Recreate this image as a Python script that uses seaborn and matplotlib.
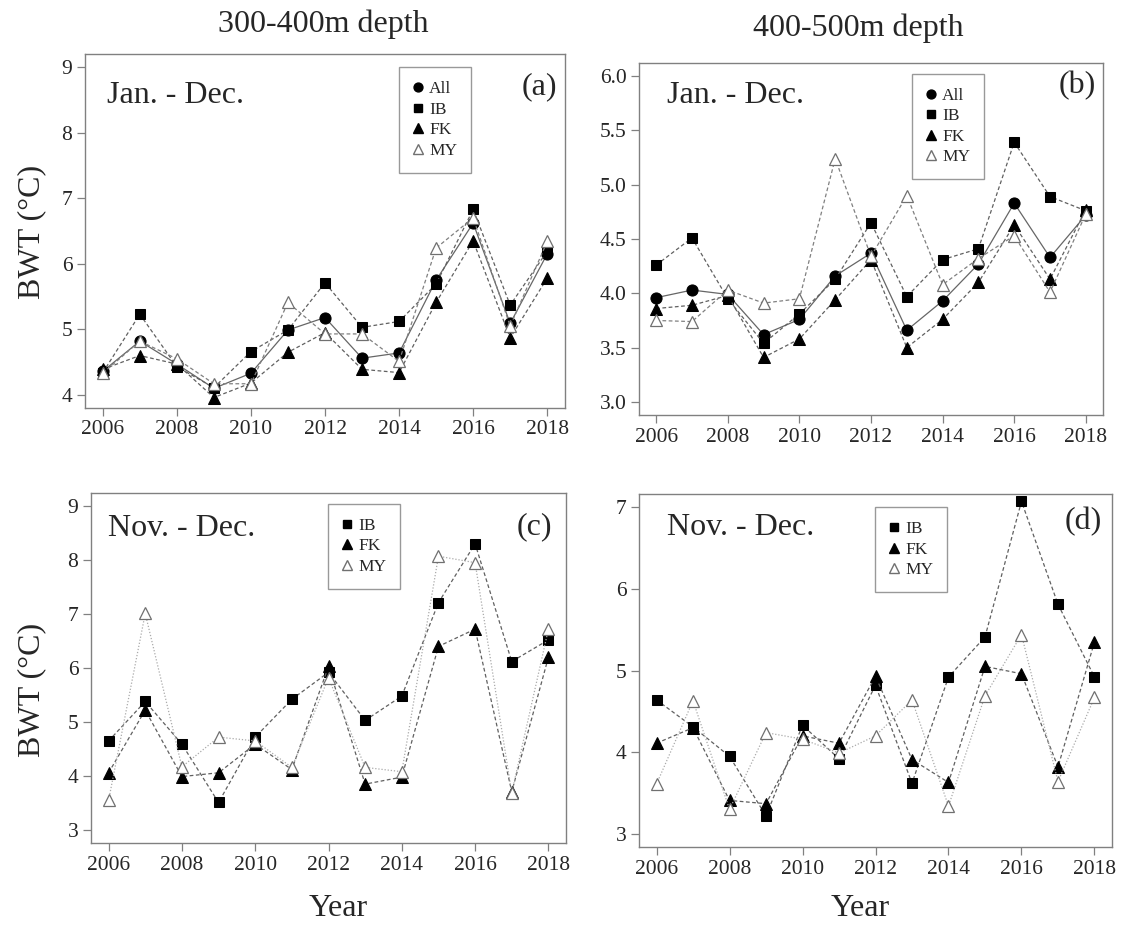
import pandas as pd
import seaborn as sns
import matplotlib.pyplot as plt
from matplotlib.lines import Line2D

# Bottom water temperature by year
years = list(range(2006, 2019))

# (a) 300-400m, Jan.-Dec.
a_all = [4.36, 4.82, 4.47, 4.10, 4.33, 4.99, 5.18, 4.56, 4.64, 5.75, 6.62, 5.09, 6.15]
a_ib = [4.34, 5.23, 4.43, 4.11, 4.66, 4.99, 5.71, 5.03, 5.12, 5.69, 6.83, 5.37, 6.19]
a_fk = [4.39, 4.60, 4.47, 3.96, 4.18, 4.65, 4.95, 4.39, 4.34, 5.41, 6.35, 4.87, 5.78]
a_my = [4.33, 4.82, 4.55, 4.17, 4.17, 5.41, 4.93, 4.93, 4.51, 6.24, 6.70, 5.05, 6.34]

# (b) 400-500m, Jan.-Dec.
b_all = [3.96, 4.03, 3.99, 3.62, 3.76, 4.16, 4.37, 3.66, 3.93, 4.27, 4.83, 4.33, 4.72]
b_ib = [4.26, 4.51, 3.95, 3.54, 3.81, 4.13, 4.65, 3.97, 4.31, 4.41, 5.39, 4.89, 4.76]
b_fk = [3.86, 3.89, 3.98, 3.41, 3.58, 3.94, 4.31, 3.50, 3.76, 4.10, 4.63, 4.13, 4.77]
b_my = [3.75, 3.74, 4.03, 3.91, 3.95, 5.24, 4.34, 4.90, 4.08, 4.32, 4.53, 4.01, 4.73]

# (c) 300-400m, Nov.-Dec.
c_ib = [4.65, 5.38, 4.59, 3.51, 4.72, 5.42, 5.92, 5.03, 5.48, 7.21, 8.30, 6.12, 6.52]
c_fk = [4.06, 5.22, 3.99, 4.06, 4.59, 4.12, 6.03, 3.85, 3.98, 6.40, 6.72, 3.71, 6.20]
c_my = [3.55, 7.01, 4.17, 4.72, 4.65, 4.16, 5.82, 4.16, 4.08, 8.07, 7.95, 3.69, 6.72]

# (d) 400-500m, Nov.-Dec.
d_ib = [4.64, 4.31, 3.95, 3.22, 4.33, 3.92, 4.82, 3.62, 4.92, 5.41, 7.07, 5.81, 4.92]
d_fk = [4.11, 4.30, 3.41, 3.37, 4.20, 4.11, 4.93, 3.91, 3.63, 5.05, 4.96, 3.82, 5.35]
d_my = [3.61, 4.63, 3.30, 4.24, 4.16, 3.99, 4.20, 4.64, 3.34, 4.69, 5.44, 3.64, 4.67]

sns.set_style('white')
plt.rcParams['font.family'] = ['Liberation Serif', 'DejaVu Serif']

W, H = 1128, 927
fig = plt.figure(figsize=(W / 100, H / 100), dpi=100)


def box(l, t, r, b):
    return [l / W, 1 - b / H, (r - l) / W, (b - t) / H]


def styles(dotted_my):
    return {
        'All': dict(marker='o', ms=8, mfc='black', mec='black', ls='-', color='#666666'),
        'IB': dict(marker='s', ms=7.5, mfc='black', mec='black', ls=(0, (3, 2)), color='#606060'),
        'FK': dict(marker='^', ms=8.5, mfc='black', mec='black', ls=(0, (3, 2)), color='#606060'),
        'MY': dict(marker='^', ms=8.5, mfc='white', mec='#707070', mew=0.9,
                   ls=(0, (1, 1.5)) if dotted_my else (0, (3, 2)),
                   color='#aaaaaa' if dotted_my else '#808080'),
    }


panels = [
    (box(85, 54, 565, 408), {'All': a_all, 'IB': a_ib, 'FK': a_fk, 'MY': a_my},
     (4, 9), [4, 5, 6, 7, 8, 9], '{:.0f}', 'Jan. - Dec.', '(a)', (0.046, 0.884), (0.983, 0.907), (0.654, 0.963), False),
    (box(639, 63, 1103, 415), {'All': b_all, 'IB': b_ib, 'FK': b_fk, 'MY': b_my},
     (3, 6), [3.0, 3.5, 4.0, 4.5, 5.0, 5.5, 6.0], '{:.1f}', 'Jan. - Dec.', '(b)', (0.060, 0.909), (0.985, 0.935), (0.588, 0.969), False),
    (box(91, 493, 566, 843), {'IB': c_ib, 'FK': c_fk, 'MY': c_my},
     (3, 9), [3, 4, 5, 6, 7, 8, 9], '{:.0f}', 'Nov. - Dec.', '(c)', (0.036, 0.900), (0.970, 0.903), (0.499, 0.969), True),
    (box(639, 494, 1112, 847), {'IB': d_ib, 'FK': d_fk, 'MY': d_my},
     (3, 7), [3, 4, 5, 6, 7], '{:.0f}', 'Nov. - Dec.', '(d)', (0.059, 0.904), (0.979, 0.921), (0.499, 0.963), True),
]

for rect, series, ylim, yticks, yfmt, season, tag, spos, tpos, lpos, dotted in panels:
    ax = fig.add_axes(rect)
    st = styles(dotted)
    for name, vals in series.items():
        df = pd.DataFrame({'Year': years, 'BWT': vals})
        sns.lineplot(data=df, x='Year', y='BWT', ax=ax, legend=False, lw=0.9, **st[name])
    pad = (ylim[1] - ylim[0]) * 0.04
    ax.set_ylim(ylim[0] - pad, ylim[1] + pad)
    ax.set_xlim(2006 - 0.48, 2018 + 0.48)
    ax.set_xticks(range(2006, 2019, 2))
    ax.set_yticks(yticks)
    ax.set_yticklabels([yfmt.format(v) for v in yticks])
    ax.set_xlabel('')
    ax.set_ylabel('')
    ax.tick_params(direction='out', length=6, width=0.9, color='#808080', labelsize=15.5,
                   bottom=True, left=True, pad=3)
    for sp in ax.spines.values():
        sp.set_color('#808080')
        sp.set_linewidth(1.0)
    ax.text(spos[0], spos[1], season, transform=ax.transAxes, fontsize=23, ha='left', va='center')
    ax.text(tpos[0], tpos[1], tag, transform=ax.transAxes, fontsize=23, ha='right', va='center')
    handles = []
    for name in series:
        s = st[name]
        handles.append(Line2D([], [], ls='none', marker=s['marker'], ms=s['ms'] * 0.8,
                              mfc=s['mfc'], mec=s['mec'], label=name))
    leg = ax.legend(handles=handles, loc='upper left', bbox_to_anchor=lpos, fontsize=12.5,
                    frameon=True, fancybox=False, edgecolor='#808080', handlelength=0.6,
                    handletextpad=0.35, borderpad=0.8, labelspacing=0.25, borderaxespad=0)
    leg.get_frame().set_linewidth(1.0)

fig.text(323 / W, 1 - 24 / H, '300-400m depth', fontsize=23, ha='center', va='center')
fig.text(858 / W, 1 - 28 / H, '400-500m depth', fontsize=23, ha='center', va='center')
fig.text(32 / W, 1 - 232 / H, 'BWT (°C)', fontsize=23, ha='center', va='center', rotation=90)
fig.text(32 / W, 1 - 690 / H, 'BWT (°C)', fontsize=23, ha='center', va='center', rotation=90)
fig.text(338 / W, 1 - 908 / H, 'Year', fontsize=23, ha='center', va='center')
fig.text(860 / W, 1 - 908 / H, 'Year', fontsize=23, ha='center', va='center')

fig.savefig('out.png', dpi=100, facecolor='white')
